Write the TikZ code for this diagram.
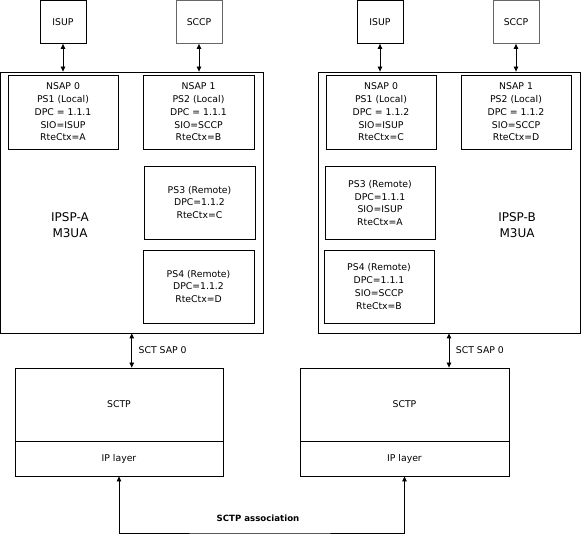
\documentclass[tikz,border=0pt]{standalone}
\usepackage{fontspec}
\setmainfont{DejaVu Sans}
\usetikzlibrary{arrows.meta}
\begin{document}
\begin{tikzpicture}[x=1pt,y=-1pt,
  every node/.style={font=\fontsize{9.3}{12.7}\selectfont, inner sep=0pt},
  box/.style={draw=black, line width=0.8pt, rectangle, align=center},
  graybox/.style={box, draw=black!60},
  lbl/.style={align=center, font=\fontsize{12}{16}\selectfont},
  link/.style={line width=0.8pt, {Triangle[length=5pt,width=4.5pt]}-{Triangle[length=5pt,width=4.5pt]}}
]
\useasboundingbox (0,0) rectangle (581,534);
% ---- left side
\node[box, minimum width=46pt, minimum height=43pt] (isupA) at (63,22) {ISUP};
\node[graybox, minimum width=46pt, minimum height=43pt] (sccpA) at (199,22) {SCCP};
\node[box, minimum width=262.5pt, minimum height=261pt] (m3uaA) at (131.75,202.5) {};
\node[box, minimum width=110pt, minimum height=74pt] (nsap0A) at (63,112) {NSAP 0\\PS1 (Local)\\DPC = 1.1.1\\SIO=ISUP\\RteCtx=A};
\node[box, minimum width=111pt, minimum height=74pt] (nsap1A) at (198.5,112) {NSAP 1\\PS2 (Local)\\DPC = 1.1.1\\SIO=SCCP\\RteCtx=B};
\node[box, minimum width=111pt, minimum height=73pt] (ps3A) at (199.5,202.5) {PS3 (Remote)\\DPC=1.1.2\\RteCtx=C};
\node[box, minimum width=111pt, minimum height=73pt] (ps4A) at (198.5,286.5) {PS4 (Remote)\\DPC=1.1.2\\RteCtx=D};
\node[lbl] (nameA) at (70,225) {IPSP-A\\M3UA};
\node[box, minimum width=208pt, minimum height=73pt] (sctpA) at (119,404.5) {SCTP};
\node[box, minimum width=208pt, minimum height=35pt] (ipA) at (119,458.5) {IP layer};
% ---- right side
\node[box, minimum width=46pt, minimum height=43pt] (isupB) at (380,22) {ISUP};
\node[graybox, minimum width=46pt, minimum height=43pt] (sccpB) at (516,22) {SCCP};
\node[box, minimum width=262pt, minimum height=261pt] (m3uaB) at (449,202.5) {};
\node[box, minimum width=110pt, minimum height=74pt] (nsap0B) at (381,112) {NSAP 0\\PS1 (Local)\\DPC = 1.1.2\\SIO=ISUP\\RteCtx=C};
\node[box, minimum width=110pt, minimum height=74pt] (nsap1B) at (516,112) {NSAP 1\\PS2 (Local)\\DPC = 1.1.2\\SIO=SCCP\\RteCtx=D};
\node[box, minimum width=110pt, minimum height=73pt] (ps3B) at (380,203) {PS3 (Remote)\\DPC=1.1.1\\SIO=ISUP\\RteCtx=A};
\node[box, minimum width=110pt, minimum height=73pt] (ps4B) at (379,286.5) {PS4 (Remote)\\DPC=1.1.1\\SIO=SCCP\\RteCtx=B};
\node[lbl] (nameB) at (517,225) {IPSP-B\\M3UA};
\node[box, minimum width=209pt, minimum height=73pt] (sctpB) at (404.5,404.5) {SCTP};
\node[box, minimum width=209pt, minimum height=35pt] (ipB) at (404.5,458.5) {IP layer};
% ---- connectors
\draw[link] (isupA.south) -- (isupA.south |- m3uaA.north);
\draw[link] (sccpA.south) -- (sccpA.south |- m3uaA.north);
\draw[link] (isupB.south) -- (isupB.south |- m3uaB.north);
\draw[link] (sccpB.south) -- (sccpB.south |- m3uaB.north);
\draw[link] (m3uaA.south) -- node[right=6.5pt] (sapA) {SCT SAP 0} (m3uaA.south |- sctpA.north);
\draw[link] (m3uaB.south) -- node[right=6.5pt] (sapB) {SCT SAP 0} (m3uaB.south |- sctpB.north);
\coordinate (assoc) at (258,533);
\draw[link] (ipA.south) |- (assoc) -| (ipB.south);
\node[font=\fontsize{8.6}{12.5}\selectfont\bfseries] (assocLbl) at (258,518) {SCTP association};
\end{tikzpicture}
\end{document}
